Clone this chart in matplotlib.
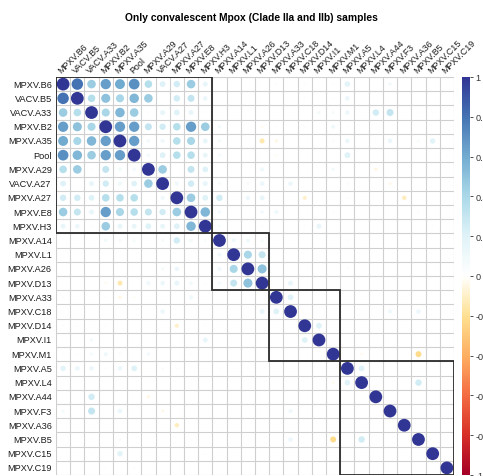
import numpy as np
import matplotlib
matplotlib.use("Agg")
import matplotlib.pyplot as plt
from matplotlib.patches import Circle, Rectangle
from matplotlib.colors import LinearSegmentedColormap, Normalize
from matplotlib.colorbar import ColorbarBase

plt.rcParams['font.family'] = ['Liberation Sans', 'DejaVu Sans']

title = "Only convalescent Mpox (Clade IIa and IIb) samples"

labels = ["MPXV.B6", "VACV.B5", "VACV.A33", "MPXV.B2", "MPXV.A35", "Pool",
          "MPXV.A29", "VACV.A27", "MPXV.A27", "MPXV.E8", "MPXV.H3",
          "MPXV.A14", "MPXV.L1", "MPXV.A26", "MPXV.D13",
          "MPXV.A33", "MPXV.C18", "MPXV.D14", "MPXV.I1", "MPXV.M1",
          "MPXV.A5", "MPXV.L4", "MPXV.A44", "MPXV.F3", "MPXV.A36",
          "MPXV.B5", "MPXV.C15", "MPXV.C19"]

# cluster sizes (hierarchical clustering rectangles)
cluster_sizes = [11, 4, 5, 8]

# lower triangle of the first cluster (rows 1..10, columns 0..i-1)
cluster1_lower = [
    [0.80],
    [0.45, 0.35],
    [0.65, 0.50, 0.40],
    [0.60, 0.40, 0.55, 0.65],
    [0.70, 0.55, 0.45, 0.65, 0.65],
    [0.35, 0.45, 0.03, 0.30, 0.08, 0.08],
    [0.20, 0.00, 0.15, 0.25, 0.10, 0.20, 0.45],
    [0.25, 0.25, 0.20, 0.35, 0.35, 0.35, 0.00, 0.10],
    [0.45, 0.30, 0.15, 0.65, 0.40, 0.35, 0.30, 0.25, 0.45],
    [0.15, 0.12, 0.03, 0.45, 0.15, 0.15, 0.20, 0.15, 0.20, 0.55],
]

# remaining (sparse) lower-triangle correlations: row index, column index, r
other_row = [11, 11, 11, 11, 11, 11, 11, 12,
             13, 13, 13, 13,
             14, 14, 14, 14, 14, 14, 14, 14, 14, 14,
             15, 15, 15, 15, 15,
             16, 16, 16,
             17, 17, 17, 17, 17,
             18, 18, 18,
             19, 19, 19, 19, 19, 19, 19,
             20, 20, 20, 20, 20, 20, 20, 20, 20, 20,
             21, 21,
             22, 22, 22,
             23, 23, 23, 23, 23,
             24,
             25, 25, 25, 25, 25, 25, 25,
             26, 26, 26,
             27, 27]
other_col = [3, 4, 5, 7, 8, 9, 10, 11,
             7, 8, 11, 12,
             3, 4, 6, 7, 8, 9, 10, 11, 12, 13,
             0, 3, 4, 5, 9,
             7, 14, 15,
             0, 1, 3, 8, 10,
             2, 10, 17,
             0, 1, 2, 3, 4, 6, 9,
             0, 1, 2, 3, 4, 5, 7, 8, 11, 13,
             19, 20,
             2, 4, 6,
             0, 2, 4, 7, 16,
             8,
             1, 2, 4, 9, 16, 19, 21,
             2, 4, 10,
             3, 5]
other_r = [0.08, 0.06, 0.06, 0.06, 0.25, 0.08, 0.05, 0.10,
           0.06, 0.12, 0.10, 0.40,
           -0.04, -0.15, 0.10, 0.12, 0.15, 0.08, 0.03, 0.06, 0.30, 0.50,
           0.03, 0.03, -0.06, -0.03, 0.10,
           0.12, 0.15, 0.20,
           0.03, 0.03, 0.03, -0.10, 0.03,
           0.07, 0.15, 0.20,
           0.03, 0.03, 0.06, 0.10, 0.04, 0.07, 0.03,
           0.18, 0.13, 0.12, 0.03, 0.12, 0.20, 0.04, 0.03, 0.03, 0.03,
           -0.04, 0.20,
           0.25, 0.03, -0.06,
           0.07, 0.30, 0.13, -0.05, 0.10,
           -0.12,
           0.02, 0.02, 0.05, 0.03, 0.12, -0.22, 0.25,
           0.03, 0.18, 0.03,
           0.02, 0.02]

cbar_ticks = [1, 0.8, 0.6, 0.4, 0.2, 0, -0.2, -0.4, -0.6, -0.8, -1]

# ---- build the symmetric matrix ----
n = len(labels)
corr = np.eye(n)
for i, row in enumerate(cluster1_lower, start=1):
    for j, v in enumerate(row):
        corr[i, j] = corr[j, i] = v
for i, j, v in zip(other_row, other_col, other_r):
    corr[i, j] = corr[j, i] = v

cmap = LinearSegmentedColormap.from_list(
    "COL2_RdYlBu",
    ['#A50026', '#D73027', '#F46D43', '#FDAE61', '#FEE090', '#FFFFFF',
     '#E0F3F8', '#ABD9E9', '#74ADD1', '#4575B4', '#313695'], N=200)
norm = Normalize(-1, 1)

W, H = 483, 477
fig = plt.figure(figsize=(W / 100, H / 100), dpi=100)
left, top, size = 56, 78, 398
ax = fig.add_axes([left / W, 1 - (top + size) / H, size / W, size / H])
ax.set_xlim(0, n)
ax.set_ylim(n, 0)
ax.axis('off')

# grid
for k in range(n + 1):
    ax.plot([k, k], [0, n], color='#CFCFCF', lw=0.8, zorder=1, solid_capstyle='butt')
    ax.plot([0, n], [k, k], color='#CFCFCF', lw=0.8, zorder=1, solid_capstyle='butt')

# circles
for i in range(n):
    for j in range(n):
        v = corr[i, j]
        if abs(v) < 1e-9:
            continue
        r = 0.45 * np.sqrt(abs(v))
        ax.add_patch(Circle((j + 0.5, i + 0.5), r, facecolor=cmap(norm(v)),
                            edgecolor='none', zorder=2))

# cluster rectangles
start = 0
for s in cluster_sizes:
    ax.add_patch(Rectangle((start, start), s, s, fill=False, edgecolor='#2b2b2b',
                           lw=1.3, zorder=3))
    start += s

# labels
for i, lab in enumerate(labels):
    ax.text(-0.3, i + 0.5, lab, ha='right', va='center', fontsize=6.6,
            color='#1a1a1a')
    ax.text(i + 0.5, -0.15, lab, ha='left', va='bottom', fontsize=6.4,
            color='#1a1a1a', rotation=45, rotation_mode='anchor')

fig.text(251 / W, 1 - 18 / H, title, ha='center', va='center',
         fontsize=7.4, fontweight='bold')

# colorbar
cax = fig.add_axes([462 / W, 1 - (top + size) / H, 8 / W, size / H])
cb = ColorbarBase(cax, cmap=cmap, norm=norm, ticks=cbar_ticks)
cb.outline.set_visible(False)
cb.ax.set_yticklabels([f"{t:g}" for t in cbar_ticks])
cb.ax.tick_params(labelsize=6.6, length=2, width=0.6, colors='#333333', pad=2)

fig.savefig("out.png", dpi=100)
